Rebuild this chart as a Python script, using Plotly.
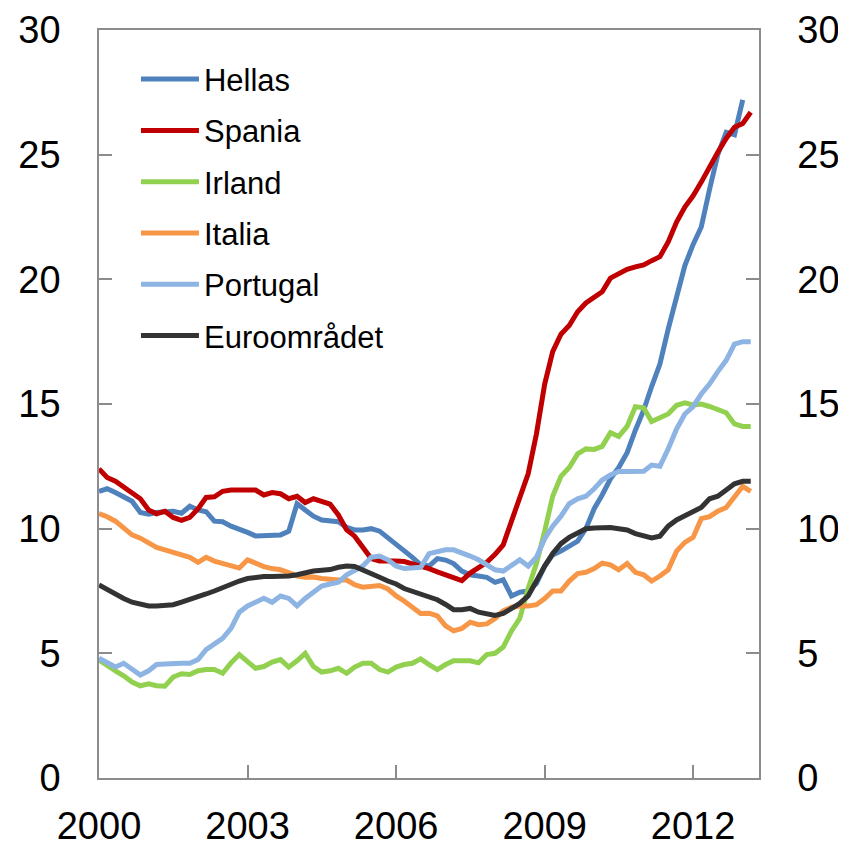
import pandas as pd
import plotly.graph_objects as go

dates = pd.date_range("2000-01-01", periods=80, freq="2MS")

series_names = ["Hellas", "Spania", "Irland", "Italia", "Portugal", "Euroområdet"]
series_colors = ["#4F81BD", "#C00000", "#92D050", "#F79646", "#8DB4E2", "#333333"]

hellas = [11.5, 11.6, 11.45, 11.3, 11.1, 10.65, 10.58, 10.65, 10.7, 10.7,
          10.62, 10.9, 10.75, 10.68, 10.3, 10.28, 10.1, 10.0, 9.85, 9.71,
          9.71, 9.71, 9.75, 9.9, 11.0, 10.75, 10.5, 10.35, 10.3, 10.28,
          10.05, 9.95, 9.95, 10.0, 9.9, 9.65, 9.38, 9.1, 8.85, 8.55,
          8.5, 8.8, 8.74, 8.6, 8.3, 8.15, 8.1, 8.05, 7.85, 7.95,
          7.3, 7.45, 7.5, 7.8, 8.5, 8.95, 9.1, 9.3, 9.5, 10.0,
          10.8, 11.35, 12.0, 12.45, 13.05, 13.95, 14.75, 15.7, 16.6, 18.0,
          19.2, 20.55, 21.4, 22.1, 23.6, 25.0, 25.9, 25.8, 27.2, None]

spania = [12.4, 12.05, 11.9, 11.65, 11.45, 11.2, 10.75, 10.6, 10.7, 10.45,
          10.33, 10.45, 10.8, 11.25, 11.28, 11.5, 11.55, 11.55, 11.6, 11.55,
          11.35, 11.45, 11.4, 11.2, 11.3, 11.05, 11.2, 11.1, 10.98, 10.55,
          9.95, 9.7, 9.25, 8.8, 8.7, 8.72, 8.7, 8.68, 8.6, 8.48,
          8.4, 8.27, 8.15, 8.05, 7.92, 8.22, 8.45, 8.65, 8.97, 9.35,
          10.3, 11.3, 12.2, 13.8, 15.8, 17.1, 17.8, 18.15, 18.7, 19.05,
          19.25, 19.5, 20.05, 20.25, 20.4, 20.5, 20.58, 20.75, 20.91, 21.5,
          22.3, 22.9, 23.35, 23.9, 24.55, 25.1, 25.65, 26.1, 26.25, 26.7]

irland = [4.73, 4.5, 4.3, 4.1, 3.85, 3.7, 3.78, 3.7, 3.68, 4.05,
          4.18, 4.15, 4.3, 4.35, 4.35, 4.2, 4.62, 4.95, 4.67, 4.4,
          4.47, 4.65, 4.75, 4.45, 4.7, 5.0, 4.47, 4.25, 4.3, 4.4,
          4.2, 4.45, 4.6, 4.6, 4.35, 4.25, 4.45, 4.55, 4.6, 4.78,
          4.55, 4.35, 4.55, 4.7, 4.7, 4.7, 4.62, 4.95, 5.0, 5.25,
          5.9, 6.4, 7.6, 8.6, 9.9, 11.3, 12.1, 12.45, 13.0, 13.2,
          13.18, 13.3, 13.85, 13.7, 14.1, 14.89, 14.85, 14.3, 14.45, 14.6,
          14.95, 15.05, 14.96, 15.0, 14.9, 14.8, 14.65, 14.2, 14.1, 14.1]

italia = [10.6, 10.48, 10.3, 10.05, 9.75, 9.62, 9.45, 9.25, 9.15, 9.05,
          8.95, 8.85, 8.65, 8.85, 8.7, 8.6, 8.52, 8.42, 8.75, 8.6,
          8.48, 8.4, 8.35, 8.24, 8.1, 8.05, 8.06, 8.0, 7.95, 7.94,
          7.94, 7.75, 7.65, 7.7, 7.72, 7.58, 7.3, 7.1, 6.85, 6.6,
          6.61, 6.5, 6.1, 5.9, 6.0, 6.25, 6.15, 6.18, 6.4, 6.7,
          6.85, 6.9, 6.9, 6.95, 7.2, 7.5, 7.5, 7.9, 8.2, 8.25,
          8.4, 8.62, 8.55, 8.35, 8.6, 8.25, 8.15, 7.9, 8.1, 8.35,
          9.1, 9.45, 9.65, 10.4, 10.48, 10.7, 10.85, 11.25, 11.7, 11.5]

portugal = [4.8, 4.65, 4.45, 4.6, 4.35, 4.13, 4.3, 4.55, 4.57, 4.6,
            4.6, 4.6, 4.75, 5.15, 5.4, 5.6, 6.0, 6.65, 6.9, 7.05,
            7.21, 7.05, 7.3, 7.2, 6.9, 7.2, 7.45, 7.7, 7.78, 7.85,
            8.15, 8.35, 8.5, 8.85, 8.9, 8.75, 8.5, 8.4, 8.45, 8.45,
            9.0, 9.08, 9.15, 9.15, 9.05, 8.9, 8.75, 8.55, 8.35, 8.3,
            8.55, 8.75, 8.5, 8.85, 9.6, 10.1, 10.5, 11.0, 11.2, 11.3,
            11.6, 11.95, 12.15, 12.29, 12.29, 12.29, 12.3, 12.55, 12.5, 13.2,
            14.0, 14.6, 14.9, 15.4, 15.8, 16.3, 16.75, 17.4, 17.5, 17.5]

euro = [7.74, 7.55, 7.4, 7.2, 7.05, 6.95, 6.9, 6.9, 6.9, 6.95,
        7.05, 7.15, 7.25, 7.38, 7.5, 7.63, 7.8, 7.9, 8.0, 8.06,
        8.08, 8.08, 8.08, 8.1, 8.15, 8.25, 8.3, 8.33, 8.36, 8.45,
        8.5, 8.48, 8.35, 8.2, 8.05, 7.9, 7.78, 7.6, 7.48, 7.36,
        7.26, 7.15, 6.96, 6.75, 6.75, 6.8, 6.65, 6.58, 6.52, 6.6,
        6.8, 7.0, 7.3, 7.95, 8.5, 9.0, 9.4, 9.65, 9.85, 10.0,
        10.03, 10.06, 10.05, 10.0, 9.95, 9.8, 9.7, 9.63, 9.7, 10.1,
        10.35, 10.5, 10.65, 10.85, 11.2, 11.3, 11.55, 11.8, 11.9, 11.9]

x_tick_vals = ["2000-01-01", "2003-01-01", "2006-01-01", "2009-01-01", "2012-01-01"]
x_tick_text = ["2000", "2003", "2006", "2009", "2012"]
y_tick_vals = [0, 5, 10, 15, 20, 25, 30]

all_series = [hellas, spania, irland, italia, portugal, euro]

AXIS_COLOR = "#8c8c8c"
FONT = "Liberation Sans, Arial, sans-serif"

fig = go.Figure()
for name, color, vals in zip(series_names, series_colors, all_series):
    fig.add_trace(go.Scatter(
        x=dates, y=vals, name=name, mode="lines",
        line=dict(color=color, width=5),
        legendgroup=name,
    ))

# anchor trace for the right-hand axis (no visible mark)
fig.add_trace(go.Scatter(
    x=[dates[0]], y=[None], yaxis="y2", mode="lines",
    showlegend=False, hoverinfo="skip",
))

axis_common = dict(
    ticks="inside", ticklen=13, tickwidth=1.5, tickcolor=AXIS_COLOR,
    showline=True, linecolor=AXIS_COLOR, linewidth=1.5,
    showgrid=False, zeroline=False, automargin=False,
)

# the page body adds an 8px offset, so the figure is sized to fit the window
fig.update_layout(
    width=838, height=839,
    margin=dict(l=91, r=87, t=22, b=69),
    paper_bgcolor="white", plot_bgcolor="white",
    font=dict(family=FONT, size=38, color="black"),
    showlegend=True,
    legend=dict(
        x=0.056, y=0.970, xanchor="left", yanchor="top",
        font=dict(family=FONT, size=31, color="black"),
        bgcolor="rgba(0,0,0,0)",
        traceorder="grouped", tracegroupgap=8,
        itemwidth=58,
    ),
    xaxis=dict(
        type="date", range=["2000-01-01", "2013-05-01"],
        tickmode="array", tickvals=x_tick_vals, ticktext=x_tick_text,
        mirror=True, ticklabelstandoff=14, **axis_common,
    ),
    yaxis=dict(
        range=[0, 30], tickmode="array", tickvals=y_tick_vals,
        ticklabelstandoff=29, **axis_common,
    ),
    yaxis2=dict(
        range=[0, 30], overlaying="y", side="right",
        tickmode="array", tickvals=y_tick_vals,
        ticklabelstandoff=29, **axis_common,
    ),
)

fig.write_html("out.html")
